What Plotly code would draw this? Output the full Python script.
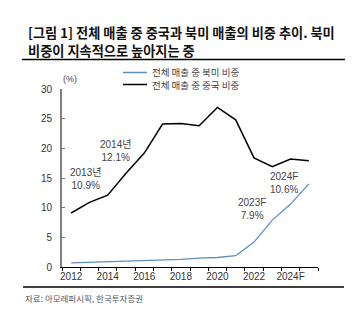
import plotly.graph_objects as go

years = ["2012", "2013", "2014", "2015", "2016", "2017", "2018", "2019",
         "2020", "2021", "2022", "2023F", "2024F", "2025F"]
north_america = [0.7, 0.8, 0.9, 1.0, 1.0, 1.1, 1.3, 1.5, 1.6, 1.9, 4.2, 7.9, 10.6, 14.0]
china = [9.1, 10.9, 12.1, 15.8, 19.2, 24.1, 24.2, 23.8, 26.9, 24.8, 18.4, 16.9, 18.2, 17.9]
yticks = [0, 5, 10, 15, 20, 25, 30]
xlabels = [y if i % 2 == 0 else "" for i, y in enumerate(years)]

W, H = 352, 335
L, R, T, B = 62, 318, 89, 267


def px(x):
    return (x - L) / (R - L)


def py(y):
    return (B - y) / (B - T)


FONT = "Liberation Sans, Arial, Noto Sans CJK KR, sans-serif"
KFONT = "Noto Sans CJK KR, Liberation Sans, sans-serif"

fig = go.Figure()
fig.add_trace(go.Scatter(x=years, y=north_america, mode="lines", name="전체 매출 중 북미 비중",
                         line=dict(color="#5E8DC8", width=1.3), showlegend=False))
fig.add_trace(go.Scatter(x=years, y=china, mode="lines", name="전체 매출 중 중국 비중",
                         line=dict(color="#000000", width=1.5), showlegend=False))

annotations = []
shapes = []

# title
annotations.append(dict(text="<b>[그림 1] 전체 매출 중 중국과 북미 매출의 비중 추이. 북미</b>",
                        x=px(26), y=py(33), xref="paper", yref="paper", xanchor="left", yanchor="middle",
                        showarrow=False, font=dict(family=KFONT, size=13.2, color="#111")))
annotations.append(dict(text="<b>비중이 지속적으로 높아지는 중</b>",
                        x=px(26), y=py(50.5), xref="paper", yref="paper", xanchor="left", yanchor="middle",
                        showarrow=False, font=dict(family=KFONT, size=13.2, color="#111")))
shapes.append(dict(type="line", xref="paper", yref="paper", x0=px(22), x1=px(345), y0=py(59.5), y1=py(59.5),
                   line=dict(color="#000", width=1.5)))
# source
shapes.append(dict(type="line", xref="paper", yref="paper", x0=px(23), x1=px(344), y0=py(287), y1=py(287),
                   line=dict(color="#000", width=1.5)))
annotations.append(dict(text="자료: 아모레퍼시픽, 한국투자증권",
                        x=px(23), y=py(298), xref="paper", yref="paper", xanchor="left", yanchor="middle",
                        showarrow=False, font=dict(family=KFONT, size=8.5, color="#555")))
# legend (manual)
for i, (nm, col) in enumerate([("전체 매출 중 북미 비중", "#5E8DC8"), ("전체 매출 중 중국 비중", "#000000")]):
    yy = 72.5 + i * 12
    shapes.append(dict(type="line", xref="paper", yref="paper", x0=px(123), x1=px(147), y0=py(yy), y1=py(yy),
                       line=dict(color=col, width=1.5)))
    annotations.append(dict(text=nm, x=px(151), y=py(yy), xref="paper", yref="paper",
                            xanchor="left", yanchor="middle", showarrow=False, borderpad=0,
                            font=dict(family=KFONT, size=9.5, color="#444")))
# (%)
annotations.append(dict(text="(%)", x=px(70), y=py(79), xref="paper", yref="paper",
                        xanchor="center", yanchor="middle", showarrow=False,
                        font=dict(family=FONT, size=9, color="#444")))
# data labels
for txt, cx, cy in [("2013년<br>10.9%", 85, 178.5), ("2014년<br>12.1%", 115, 150.5),
                    ("2023F<br>7.9%", 252, 208.5), ("2024F<br>10.6%", 284, 182.5)]:
    annotations.append(dict(text=txt, x=px(cx), y=py(cy), xref="paper", yref="paper",
                            xanchor="center", yanchor="middle", showarrow=False, align="center",
                            font=dict(family=FONT, size=10, color="#444")))

fig.update_layout(
    width=W, height=H,
    margin=dict(l=L, r=W - R, t=T, b=H - B, pad=0),
    paper_bgcolor="white", plot_bgcolor="white",
    annotations=annotations, shapes=shapes,
    font=dict(family=FONT, size=10, color="#333"),
)
fig.update_xaxes(type="category", range=[-0.5, len(years) - 0.5], tickmode="array",
                 tickvals=years, ticktext=xlabels, tickson="boundaries", tickangle=0,
                 ticks="outside", ticklen=3, tickcolor="#000", tickwidth=1,
                 showline=True, linecolor="#000", linewidth=1, showgrid=False, zeroline=False,
                 tickfont=dict(family=FONT, size=10, color="#333"))
fig.update_yaxes(range=[0, 30], tickvals=yticks, ticks="inside", ticklen=3, tickcolor="#777",
                 showline=True, linecolor="#7f7f7f", linewidth=2, showgrid=False, zeroline=False,
                 ticklabelstandoff=6,
                 tickfont=dict(family=FONT, size=10, color="#333"))

fig.write_html("out.html")
